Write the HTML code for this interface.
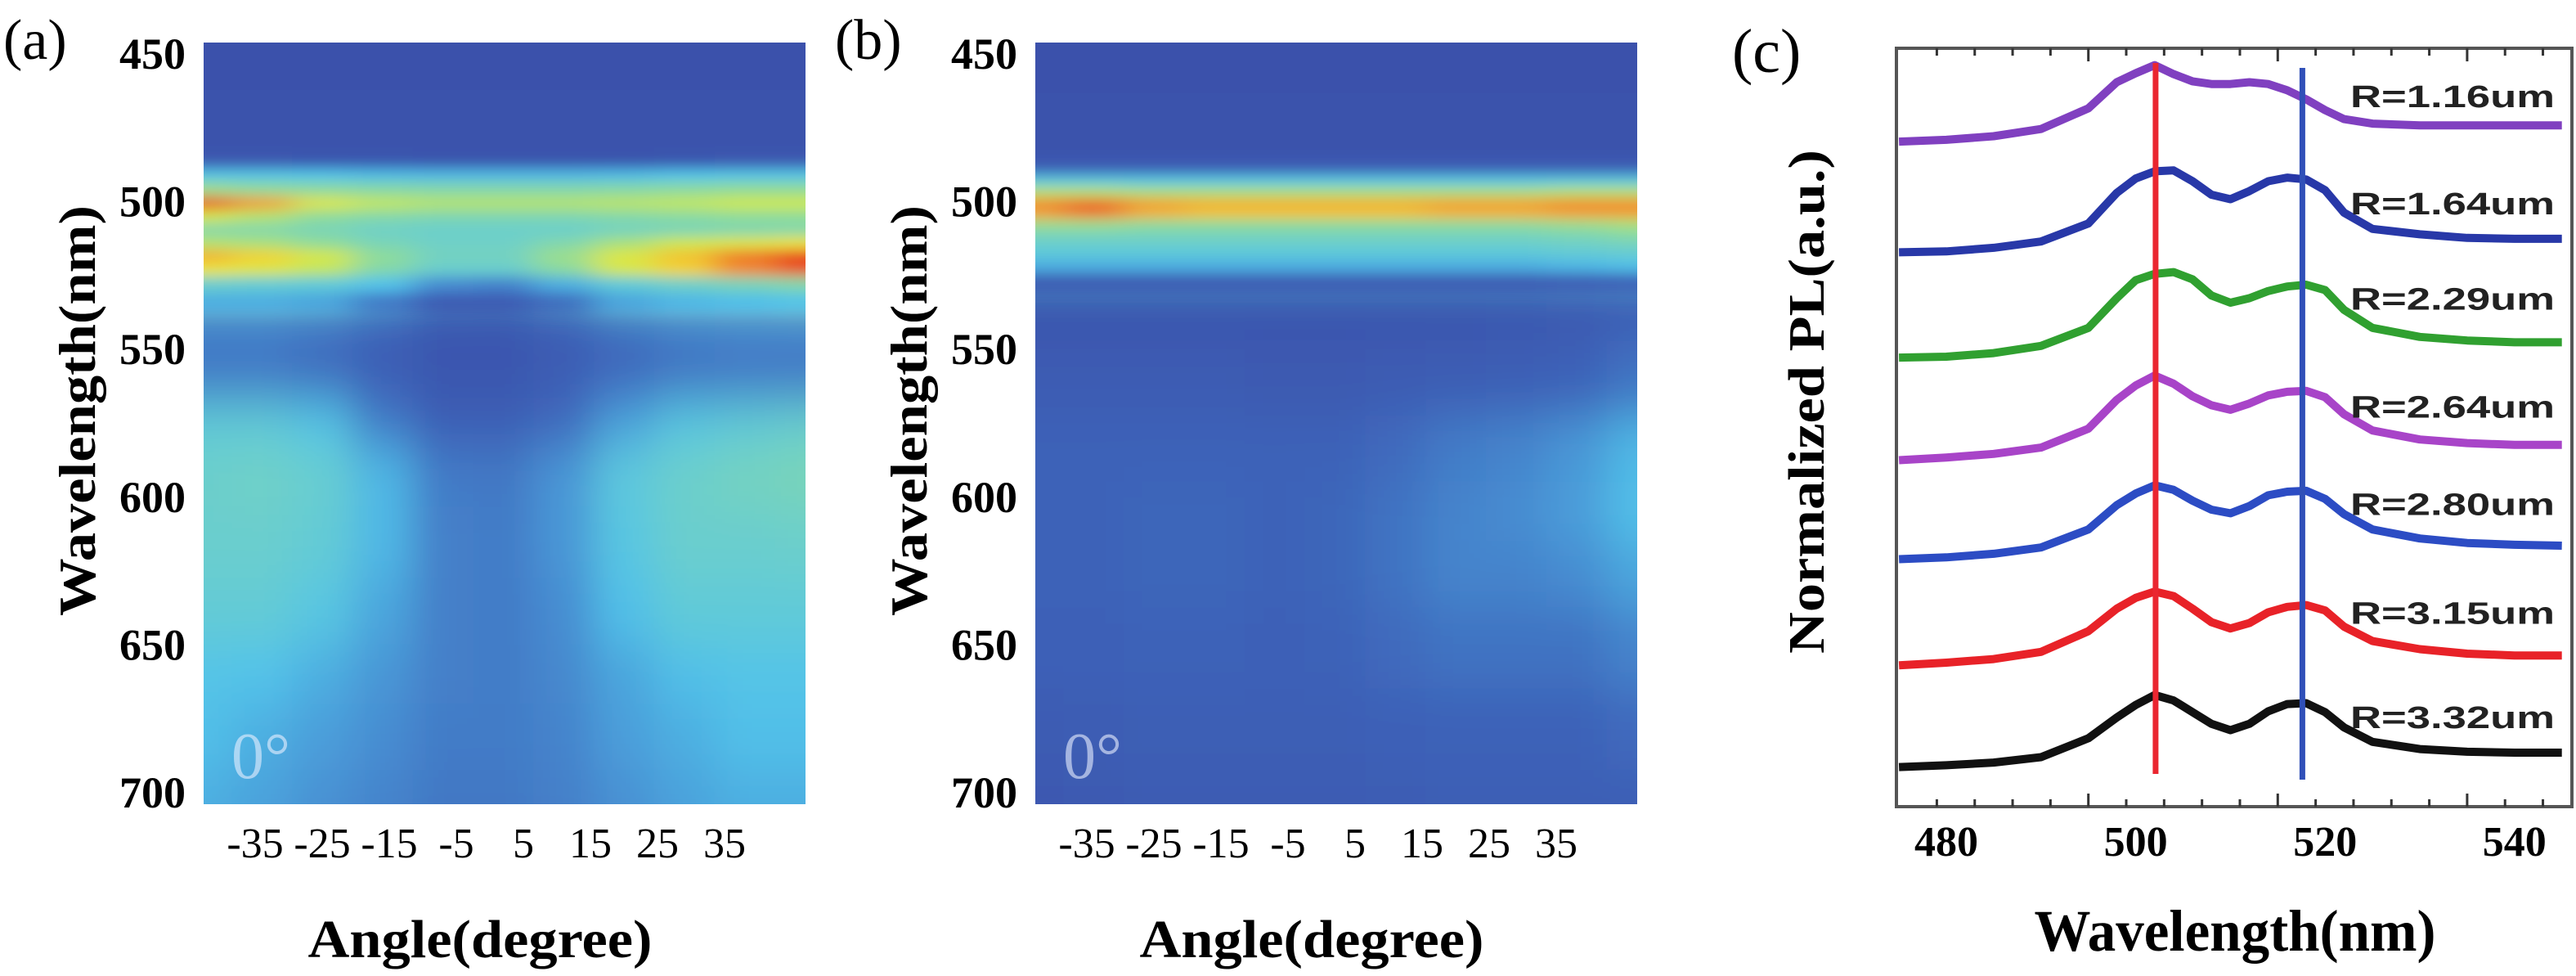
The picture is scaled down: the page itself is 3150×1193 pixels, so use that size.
<!DOCTYPE html>
<html><head><meta charset="utf-8"><style>
html,body{margin:0;padding:0;background:#fff;}
svg{display:block;}
text{font-family:"Liberation Serif",serif;}
</style></head><body>
<svg id="fig" width="3150" height="1193" viewBox="0 0 3150 1193" xmlns="http://www.w3.org/2000/svg">
<defs>
<filter id="blurSharp" x="-30%" y="-30%" width="160%" height="160%"><feGaussianBlur stdDeviation="20 8"/></filter>
<filter id="blurSoft" x="-30%" y="-30%" width="160%" height="160%"><feGaussianBlur stdDeviation="24 30"/></filter>
<clipPath id="clipA"><rect x="249" y="52" width="736" height="931"/></clipPath>
<clipPath id="clipB"><rect x="1266" y="52" width="736" height="931"/></clipPath>
</defs>
<g id="panelA"></g>
<g id="panelB"></g>
<g id="panelC"></g>
</svg>
<script>
// ---------- heatmap data ----------
const angleCols = [-43, -34, -25, -16, -7, 2, 11, 20, 29, 38, 47];
const wlRowsA = [445, 480, 487, 491, 496, 501, 505, 510, 514, 519, 523, 528, 534, 542, 560, 575, 592, 615, 640, 660, 680, 705];
const intensityA = [
 [0.02,0.02,0.02,0.02,0.02,0.02,0.02,0.02,0.02,0.02,0.02],
 [0.03,0.03,0.03,0.03,0.03,0.03,0.03,0.03,0.03,0.03,0.03],
 [0.06,0.06,0.05,0.05,0.04,0.04,0.04,0.04,0.05,0.06,0.06],
 [0.36,0.36,0.35,0.33,0.32,0.32,0.32,0.33,0.35,0.36,0.36],
 [0.62,0.6,0.58,0.56,0.55,0.55,0.55,0.56,0.58,0.6,0.6],
 [0.95,0.88,0.74,0.68,0.66,0.66,0.66,0.67,0.68,0.7,0.7],
 [0.72,0.66,0.6,0.56,0.54,0.54,0.54,0.56,0.58,0.6,0.6],
 [0.55,0.55,0.52,0.48,0.47,0.47,0.47,0.5,0.52,0.54,0.55],
 [0.66,0.64,0.6,0.52,0.48,0.48,0.55,0.64,0.7,0.74,0.78],
 [0.86,0.82,0.72,0.6,0.5,0.5,0.62,0.74,0.84,0.92,0.98],
 [0.78,0.74,0.68,0.56,0.46,0.46,0.58,0.72,0.82,0.9,0.95],
 [0.46,0.44,0.42,0.35,0.22,0.2,0.3,0.42,0.48,0.52,0.56],
 [0.3,0.3,0.28,0.18,0.08,0.08,0.15,0.28,0.32,0.34,0.36],
 [0.16,0.16,0.14,0.1,0.05,0.05,0.08,0.13,0.16,0.17,0.17],
 [0.18,0.18,0.15,0.1,0.05,0.05,0.09,0.14,0.17,0.18,0.18],
 [0.42,0.42,0.36,0.18,0.1,0.1,0.14,0.27,0.38,0.42,0.45],
 [0.47,0.48,0.45,0.32,0.18,0.17,0.24,0.4,0.47,0.5,0.52],
 [0.46,0.46,0.43,0.32,0.19,0.18,0.24,0.38,0.46,0.46,0.47],
 [0.43,0.43,0.38,0.28,0.19,0.18,0.22,0.34,0.42,0.42,0.42],
 [0.36,0.35,0.3,0.24,0.19,0.18,0.21,0.28,0.34,0.36,0.36],
 [0.34,0.3,0.26,0.22,0.18,0.18,0.2,0.26,0.3,0.34,0.34],
 [0.3,0.27,0.23,0.2,0.17,0.17,0.19,0.23,0.27,0.3,0.3]
];
const wlRowsB = [445, 482, 489, 493, 497, 501, 504, 508, 512, 517, 522, 527, 535, 560, 585, 605, 625, 650, 680, 705];
const intensityB = [
 [0.02,0.02,0.02,0.02,0.02,0.02,0.02,0.02,0.02,0.02,0.02],
 [0.03,0.03,0.03,0.03,0.03,0.03,0.03,0.03,0.03,0.03,0.03],
 [0.08,0.08,0.08,0.08,0.08,0.08,0.08,0.08,0.08,0.08,0.08],
 [0.38,0.38,0.37,0.37,0.37,0.37,0.37,0.37,0.37,0.38,0.38],
 [0.66,0.66,0.64,0.64,0.64,0.64,0.64,0.64,0.64,0.66,0.66],
 [0.9,0.94,0.88,0.86,0.86,0.86,0.86,0.88,0.88,0.9,0.9],
 [0.88,0.92,0.86,0.84,0.84,0.84,0.84,0.86,0.86,0.88,0.88],
 [0.62,0.62,0.6,0.6,0.6,0.6,0.6,0.6,0.6,0.62,0.64],
 [0.5,0.5,0.5,0.5,0.5,0.5,0.5,0.5,0.5,0.52,0.56],
 [0.42,0.42,0.42,0.42,0.42,0.42,0.42,0.42,0.42,0.44,0.46],
 [0.3,0.3,0.3,0.3,0.3,0.3,0.3,0.3,0.3,0.32,0.34],
 [0.08,0.08,0.08,0.08,0.08,0.08,0.08,0.08,0.08,0.1,0.12],
 [0.04,0.04,0.04,0.04,0.04,0.04,0.04,0.04,0.05,0.06,0.08],
 [0.08,0.08,0.08,0.08,0.07,0.07,0.08,0.09,0.1,0.12,0.16],
 [0.12,0.12,0.12,0.12,0.12,0.12,0.14,0.18,0.2,0.24,0.32],
 [0.12,0.12,0.13,0.13,0.12,0.13,0.16,0.2,0.22,0.26,0.34],
 [0.12,0.12,0.13,0.13,0.12,0.13,0.16,0.2,0.2,0.22,0.28],
 [0.11,0.11,0.12,0.12,0.11,0.12,0.14,0.16,0.16,0.16,0.2],
 [0.08,0.09,0.1,0.1,0.1,0.1,0.11,0.12,0.12,0.12,0.14],
 [0.06,0.07,0.08,0.08,0.08,0.08,0.09,0.1,0.1,0.1,0.1]
];
const wlTicks = [450, 500, 550, 600, 650, 700];
const angleTicks = [-35, -25, -15, -5, 5, 15, 25, 35];

// ---------- spectra data (panel c) ----------
const wavelengths = [475,480,485,490,495,498,500,502,504,506,508,510,512,514,516,518,520,522,525,530,535,540,545];
const specR116 = [7.39,7.41,7.45,7.53,7.76,8.05,8.15,8.24,8.14,8.06,8.03,8.03,8.05,8.03,7.96,7.86,7.74,7.64,7.59,7.57,7.57,7.57,7.57];
const specR164 = [6.16,6.17,6.21,6.28,6.48,6.82,6.98,7.06,7.07,6.95,6.80,6.75,6.84,6.95,6.99,6.97,6.85,6.60,6.42,6.36,6.32,6.31,6.31];
const specR229 = [4.99,5.00,5.04,5.12,5.32,5.65,5.85,5.92,5.94,5.86,5.68,5.60,5.65,5.73,5.78,5.80,5.74,5.52,5.32,5.22,5.18,5.16,5.16];
const specR264 = [3.85,3.88,3.92,3.99,4.20,4.52,4.68,4.79,4.70,4.56,4.46,4.41,4.48,4.57,4.61,4.62,4.55,4.36,4.18,4.08,4.04,4.02,4.02];
const specR280 = [2.75,2.77,2.81,2.88,3.08,3.35,3.48,3.57,3.52,3.40,3.30,3.26,3.34,3.46,3.50,3.51,3.42,3.25,3.08,2.98,2.93,2.91,2.90];
const specR315 = [1.57,1.60,1.64,1.72,1.95,2.20,2.32,2.39,2.34,2.20,2.05,1.98,2.04,2.16,2.22,2.24,2.18,2.00,1.84,1.75,1.70,1.68,1.68];
const specR332 = [0.44,0.46,0.49,0.55,0.76,0.99,1.13,1.24,1.18,1.05,0.92,0.85,0.92,1.06,1.14,1.15,1.05,0.88,0.72,0.64,0.61,0.60,0.60];
const seriesLabels = ["R=1.16um","R=1.64um","R=2.29um","R=2.64um","R=2.80um","R=3.15um","R=3.32um"];
const labelLevels = [7.90, 6.71, 5.65, 4.45, 3.37, 2.16, 1.00];
const xTicksC = [480, 500, 520, 540];
const markerLines = [502.1, 517.6];

const NS = "http://www.w3.org/2000/svg";
function mk(tag, attrs, parent){ const e=document.createElementNS(NS,tag); for(const k in attrs) e.setAttribute(k,attrs[k]); if(parent) parent.appendChild(e); return e; }

const stops = [[0,[58,78,168]],[0.12,[61,98,184]],[0.25,[74,154,216]],[0.35,[82,195,234]],[0.47,[108,207,203]],[0.6,[143,220,154]],[0.7,[207,232,80]],[0.8,[242,228,52]],[0.88,[242,160,48]],[1,[229,42,32]]];
function cmap(v){ v=Math.max(0,Math.min(1,v)); for(let i=1;i<stops.length;i++){ if(v<=stops[i][0]){ const a=stops[i-1],b=stops[i]; const t=(v-a[0])/(b[0]-a[0]); const c=a[1].map((x,j)=>Math.round(x+(b[1][j]-x)*t)); return `rgb(${c[0]},${c[1]},${c[2]})`; } } return "rgb(229,42,32)"; }

function heatPanel(g, x0, clipId, rows, vals, label){
  const W=736, top=52, bot=983;
  const yS = wl => 65 + (wl-450)*(968-65)/250;
  const xS = a => x0 + 350 + a*8.2;
  mk("rect",{x:x0,y:top,width:W,height:bot-top,fill:"#3a4fa8"},g);
  const cg = mk("g",{"clip-path":`url(#${clipId})`},g);
  const soft = mk("g",{filter:"url(#blurSoft)"},cg);
  
  
  const sharp = mk("g",{filter:"url(#blurSharp)"},cg);
  
  
  for(let r=0;r<rows.length;r++){
    const y1 = r===0 ? yS(rows[0])-60 : yS((rows[r-1]+rows[r])/2);
    const y2 = r===rows.length-1 ? yS(rows[r])+60 : yS((rows[r]+rows[r+1])/2);
    for(let c=0;c<angleCols.length;c++){
      const xa = c===0 ? xS(angleCols[0])-60 : xS((angleCols[c-1]+angleCols[c])/2);
      const xb = c===angleCols.length-1 ? xS(angleCols[c])+60 : xS((angleCols[c]+angleCols[c+1])/2);
      const cell = mk("rect",{x:xa,y:y1,width:xb-xa+0.5,height:y2-y1+0.5,fill:cmap(vals[r][c])},soft);
      
      
      if(rows[r] <= 534){
        const c2 = mk("rect",{x:xa,y:y1,width:xb-xa+0.5,height:y2-y1+0.5,fill:cmap(vals[r][c])},sharp);
        
        
      }
    }
  }
  const deg = mk("text",{x:x0+34,y:951,"font-size":80,fill:"rgba(235,240,255,0.6)"},g);
  deg.textContent="0°";
  
  
  wlTicks.forEach(w=>{
    const t=mk("text",{x:x0-22,y:yS(w)+19,"font-size":54,"font-weight":"bold","text-anchor":"end"},g);
    t.textContent=w;
    
    
  });
  angleTicks.forEach(a=>{
    const t=mk("text",{x:xS(a),y:1048,"font-size":52,"text-anchor":"middle"},g);
    t.textContent=a;
    
    
  });
  const xt=mk("text",{x:x0+338,y:1170,"font-size":66,"font-weight":"bold","text-anchor":"middle",textLength:421,lengthAdjust:"spacingAndGlyphs"},g);
  xt.textContent="Angle(degree)";
  
  
  const yt=mk("text",{x:0,y:0,"font-size":64,"font-weight":"bold","text-anchor":"middle",textLength:502,lengthAdjust:"spacingAndGlyphs",transform:`translate(${x0-133},502) rotate(-90)`},g);
  yt.textContent="Wavelength(nm)";
  
  
  const pl=mk("text",{x:x0-245,y:72,"font-size":70},g);
  pl.textContent=label;
  
  
}
heatPanel(document.getElementById("panelA"),249,"clipA",wlRowsA,intensityA,"(a)");
heatPanel(document.getElementById("panelB"),1266,"clipB",wlRowsB,intensityB,"(b)");

// ---------- panel c ----------
(function(){
  const g=document.getElementById("panelC");
  const L=2319,R=3145,T=59,B=986;
  const xS = w => 2380 + (w-480)*11.58;
  const yS = v => 986 - v*110;
  const frame=mk("rect",{x:L,y:T,width:R-L,height:B-T,fill:"none",stroke:"#555","stroke-width":4},g);
  
  
  for(let w=479; w<=545; w+=4){
    const x=xS(w); const len = ((w-475)%20===0)?16:9;
    mk("line",{x1:x,y1:T,x2:x,y2:T+len,stroke:"#333","stroke-width":3},g);
    mk("line",{x1:x,y1:B,x2:x,y2:B-len,stroke:"#333","stroke-width":3},g);
  }
  const all=[specR116,specR164,specR229,specR264,specR280,specR315,specR332];
  const cols=["#8040c0","#2838a8","#30a030","#a844c8","#2c4cc4","#e82228","#111111"];
  const names=["spectrum-r116","spectrum-r164","spectrum-r229","spectrum-r264","spectrum-r280","spectrum-r315","spectrum-r332"];
  all.forEach((s,i)=>{
    let d="";
    s.forEach((v,j)=>{ d += (j?"L":"M")+xS(wavelengths[j]).toFixed(1)+","+yS(v).toFixed(1); });
    const p=mk("path",{d:d,fill:"none",stroke:cols[i],"stroke-width":10,"stroke-linejoin":"round"},g);
    
    
  });
  const lc=["#ea2630","#3050b8"];
  markerLines.forEach((w,i)=>{
    const l=mk("line",{x1:xS(w),y1:i?83:77,x2:xS(w),y2:i?953:946,stroke:lc[i],"stroke-width":7},g);
    
    
  });
  seriesLabels.forEach((s,i)=>{
    const t=mk("text",{x:2874,y:yS(labelLevels[i])+14,"font-size":38,"font-weight":"bold",textLength:250,lengthAdjust:"spacingAndGlyphs",style:"font-family:'Liberation Sans',sans-serif",fill:"#222"},g);
    t.textContent=s;
    
    
  });
  xTicksC.forEach(w=>{
    const t=mk("text",{x:xS(w),y:1046,"font-size":52,"font-weight":"bold","text-anchor":"middle"},g);
    t.textContent=w;
    
    
  });
  const xt=mk("text",{x:2733,y:1162,"font-size":72,"font-weight":"bold","text-anchor":"middle",textLength:491,lengthAdjust:"spacingAndGlyphs"},g);
  xt.textContent="Wavelength(nm)";
  
  
  const yt=mk("text",{x:0,y:0,"font-size":62,"font-weight":"bold","text-anchor":"middle",textLength:616,lengthAdjust:"spacingAndGlyphs",transform:"translate(2230,491) rotate(-90)"},g);
  yt.textContent="Normalized PL(a.u.)";
  
  
  const pl=mk("text",{x:2118,y:88,"font-size":76},g);
  pl.textContent="(c)";
  
  
})();
</script>
</body></html>
